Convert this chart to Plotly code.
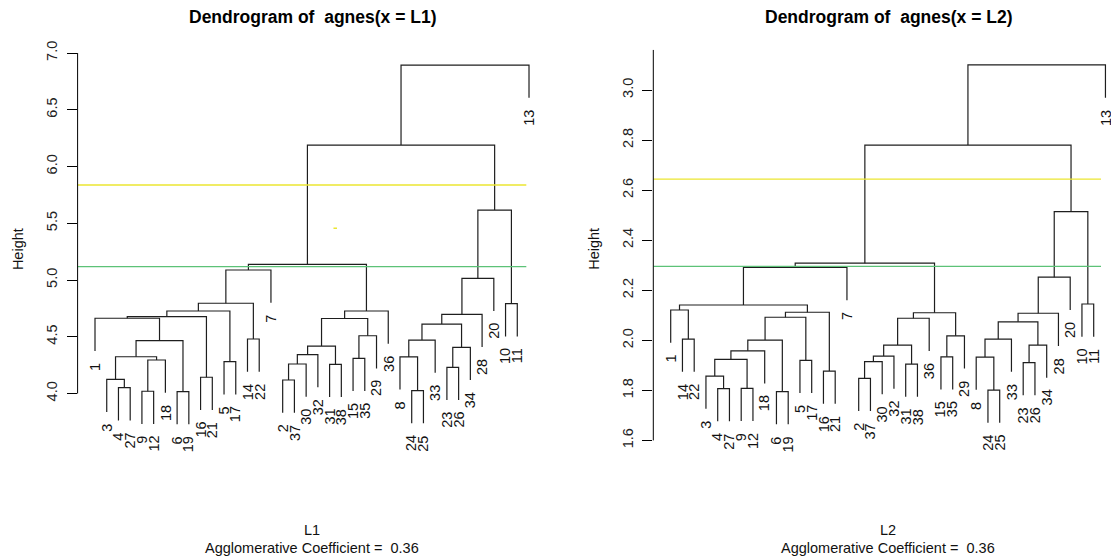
import plotly.graph_objects as go

W, H = 1111, 556

# ---------------- agnes(x = L1) ----------------
order_l1 = [1, 3, 4, 27, 9, 12, 18, 6, 19, 16, 21, 5, 17, 14, 22, 7, 2, 37, 30, 32,
            31, 38, 15, 35, 29, 36, 8, 24, 25, 33, 23, 26, 34, 28, 20, 10, 11, 13]
# merge rows: negative = single observation, positive = earlier row (1-based)
merge_a_l1 = [-6, -9, -24, -4, -2, -3, -16, -23, -31, 5, -5, 2, -15, 6, -8, 10, 8, 16, 14,
              15, -14, 13, 20, -1, 18, 24, 23, 26, 25, -10, 28, 27, 31, 33, 32, 34, 36]
merge_b_l1 = [-19, -12, -25, -27, -37, 4, -21, -26, -38, -30, -17, -18, -35, 12, 3, -32,
              -34, 9, 1, -33, -22, -29, 17, 19, 22, 7, -28, 11, -36, -11, 21, -20, -7, 29,
              30, 35, -13]
height_l1 = [4.016, 4.020, 4.025, 4.051, 4.119, 4.125, 4.143, 4.231, 4.257, 4.260, 4.280,
             4.295, 4.310, 4.324, 4.322, 4.342, 4.407, 4.418, 4.465, 4.471, 4.480, 4.509,
             4.612, 4.663, 4.661, 4.677, 4.698, 4.727, 4.727, 4.791, 4.795, 5.015, 5.088,
             5.138, 5.616, 6.189, 6.894]
cuts_l1 = [5.117, 5.837]
ticks_l1 = [4.0, 4.5, 5.0, 5.5, 6.0, 6.5, 7.0]

# ---------------- agnes(x = L2) ----------------
order_l2 = [1, 14, 22, 3, 4, 27, 9, 12, 18, 6, 19, 5, 17, 16, 21, 7, 2, 37, 30, 32,
            31, 38, 36, 15, 35, 29, 8, 24, 25, 33, 23, 26, 34, 28, 20, 10, 11, 13]
merge_a_l2 = [-6, -24, -9, -4, -2, -3, -16, -31, -23, 5, -5, 6, -15, -8, 10, 12, 9, 15, 16,
              -14, 14, 13, 21, 18, 19, 23, 24, 25, -1, 29, -10, 26, 30, 33, 32, 34, 36]
merge_b_l2 = [-19, -25, -12, -27, -37, 4, -21, -38, -26, -30, -17, 3, -35, 2, -32, -18,
              -34, 8, 1, -22, -33, -29, 17, -36, 11, -28, 22, 7, 20, 28, -11, -20, -7, 27,
              31, 35, -13]
height_l2 = [1.795, 1.801, 1.808, 1.807, 1.848, 1.857, 1.877, 1.905, 1.911, 1.915, 1.920,
             1.924, 1.934, 1.933, 1.937, 1.958, 1.981, 1.981, 2.001, 2.005, 2.005, 2.018,
             2.074, 2.088, 2.092, 2.108, 2.110, 2.112, 2.121, 2.141, 2.145, 2.252, 2.291,
             2.308, 2.514, 2.780, 3.100]
cuts_l2 = [2.295, 2.644]
ticks_l2 = [1.6, 1.8, 2.0, 2.2, 2.4, 2.6, 2.8, 3.0]

LINE = "#1e1e1e"
GREEN = "#5cc277"
YELLOW = "#ebe631"
FONT = "Liberation Sans, Arial, sans-serif"


def dendrogram(order, ma, mb, hts):
    """Return polyline coordinates and leaf tips, drawn like plot.hclust (hang = 0.1)."""
    pos = {lab: i + 1 for i, lab in enumerate(order)}
    hang = 0.1 * (max(hts) - min(hts))
    cx, ch = [], []
    xs, ys = [], []
    tips = {}
    for a, b, h in zip(ma, mb, hts):
        pts = []
        for c in (a, b):
            if c < 0:
                x, y = pos[-c], h - hang
                tips[-c] = (x, y)
            else:
                x, y = cx[c - 1], ch[c - 1]
            pts.append((x, y))
        (x1, y1), (x2, y2) = pts
        xs += [x1, x1, x2, x2, None]
        ys += [y1, h, h, y2, None]
        cx.append((x1 + x2) / 2)
        ch.append(h)
    return xs, ys, tips


fig = go.Figure()

# panel geometry in pixels: plot region left/right, leaf-1 position, leaf spacing
panels = [
    dict(order=order_l1, ma=merge_a_l1, mb=merge_b_l1, hts=height_l1, cuts=cuts_l1,
         ticks=ticks_l1, xa="x", ya="y", left=77.6, right=546.7, x1px=95.0, dx=11.73,
         h0=4.0, y0px=393.5, ky=113.5, cut_end=37.77, axis_top=7.0,
         name="L1", title="Dendrogram of \u00a0agnes(x = L1)"),
    dict(order=order_l2, ma=merge_a_l2, mb=merge_b_l2, hts=height_l2, cuts=cuts_l2,
         ticks=ticks_l2, xa="x2", ya="y2", left=653.3, right=1111.0, x1px=670.7, dx=11.75,
         h0=2.0, y0px=340.3, ky=250.3, cut_end=37.62, axis_top=3.16,
         name="L2", title="Dendrogram of \u00a0agnes(x = L2)"),
]

TOP_PX, BOT_PX = 30.0, 505.0
annotations = []
shapes = []
layout_axes = {}

for k, p in enumerate(panels):
    xs, ys, tips = dendrogram(p["order"], p["ma"], p["mb"], p["hts"])
    fig.add_trace(go.Scatter(x=xs, y=ys, mode="lines", xaxis=p["xa"], yaxis=p["ya"],
                             line=dict(color=LINE, width=1.2), hoverinfo="skip",
                             showlegend=False))
    xr0 = 1 - (p["x1px"] - p["left"]) / p["dx"]
    xr1 = 1 + (p["right"] - p["x1px"]) / p["dx"]
    # cut lines
    for hc, col in zip(p["cuts"], [GREEN, YELLOW]):
        fig.add_trace(go.Scatter(x=[xr0, p["cut_end"]], y=[hc, hc], mode="lines",
                                 xaxis=p["xa"], yaxis=p["ya"],
                                 line=dict(color=col, width=1.3), hoverinfo="skip",
                                 showlegend=False))
    # leaf labels
    for lab, (lx, ly) in tips.items():
        annotations.append(dict(text=str(lab), x=lx, y=ly, xref=p["xa"], yref=p["ya"],
                                showarrow=False, textangle=-90, xanchor="center",
                                yanchor="top", yshift=-10,
                                font=dict(family=FONT, size=14.5, color="#111")))
    yr0 = p["h0"] - (BOT_PX - p["y0px"]) / p["ky"]
    yr1 = p["h0"] + (p["y0px"] - TOP_PX) / p["ky"]
    sfx = "" if k == 0 else "2"
    layout_axes["xaxis" + sfx] = dict(domain=[p["left"] / W, min(p["right"] / W, 1.0)],
                                      range=[xr0, xr1], visible=False,
                                      anchor="y" + sfx)
    layout_axes["yaxis" + sfx] = dict(domain=[1 - BOT_PX / H, 1 - TOP_PX / H],
                                      range=[yr0, yr1], anchor="x" + sfx,
                                      tickvals=p["ticks"],
                                      ticktext=[f"{t:.1f}" for t in p["ticks"]],
                                      ticks="outside", ticklen=10, tickwidth=1,
                                      tickcolor="#000", tickangle=-90,
                                      ticklabelstandoff=4,
                                      tickfont=dict(family=FONT, size=14.5, color="#222"),
                                      showgrid=False, zeroline=False, showline=False)
    # y axis line
    shapes.append(dict(type="line", xref=p["xa"] + " domain", yref=p["ya"],
                       x0=0, x1=0, y0=p["ticks"][0], y1=p["axis_top"],
                       line=dict(color="#000", width=1)))
    # centre of the full plotting region (R extends the leaf range by 4% on each side)
    full_right = p["x1px"] + 37 * p["dx"] + (p["x1px"] - p["left"])
    cxp = (p["left"] + full_right) / 2
    annotations.append(dict(text="<b>" + p["title"] + "</b>", x=cxp / W, y=1 - 17 / H,
                            xref="paper", yref="paper", showarrow=False,
                            xanchor="center", yanchor="middle",
                            font=dict(family=FONT, size=17.5, color="#000")))
    annotations.append(dict(text=p["name"], x=cxp / W, y=1 - 530 / H, xref="paper",
                            yref="paper", showarrow=False, xanchor="center",
                            yanchor="middle",
                            font=dict(family=FONT, size=14.5, color="#111")))
    annotations.append(dict(text="Agglomerative Coefficient = \u00a00.36", x=cxp / W,
                            y=1 - 547.5 / H, xref="paper", yref="paper", showarrow=False,
                            xanchor="center", yanchor="middle",
                            font=dict(family=FONT, size=14.5, color="#111")))
    annotations.append(dict(text="Height", x=(p["left"] - 59.5) / W, y=1 - 249 / H,
                            xref="paper", yref="paper", showarrow=False, textangle=-90,
                            xanchor="center", yanchor="middle",
                            font=dict(family=FONT, size=14.5, color="#111")))

# small yellow mark inside the L1 panel
fig.add_trace(go.Scatter(x=[21.33, 21.63], y=[5.456, 5.456], mode="lines",
                         line=dict(color=YELLOW, width=1.5), hoverinfo="skip",
                         showlegend=False))

fig.update_layout(width=W, height=H, margin=dict(l=0, r=0, t=0, b=0),
                  paper_bgcolor="white", plot_bgcolor="white",
                  annotations=annotations, shapes=shapes, **layout_axes)

fig.write_html("out.html")
